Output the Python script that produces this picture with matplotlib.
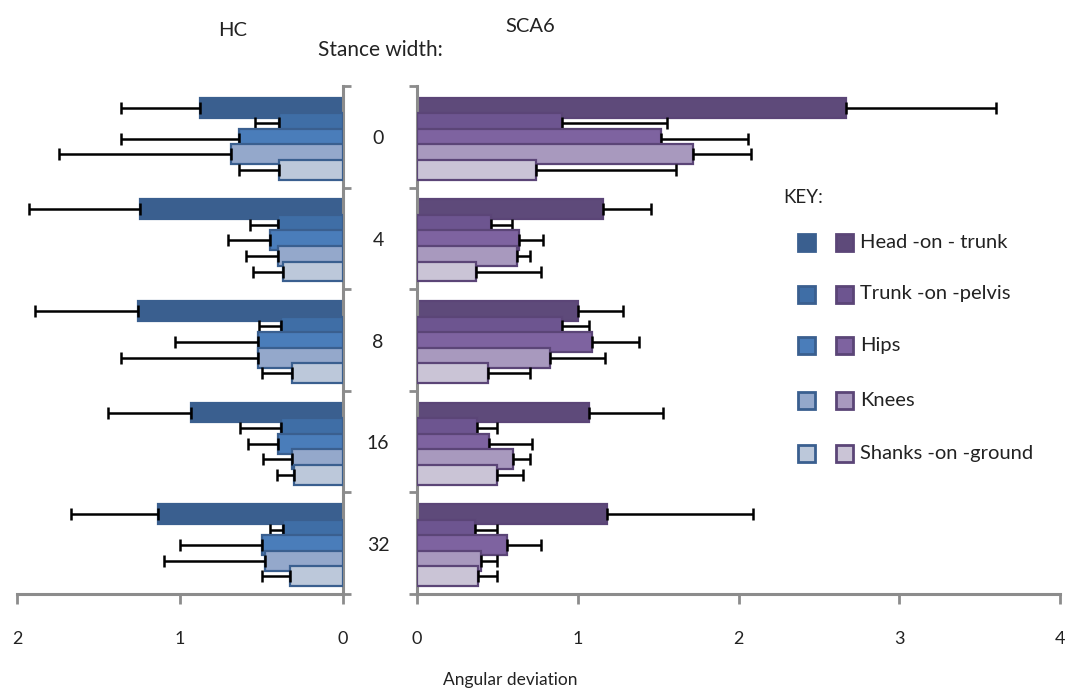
import numpy as np
import matplotlib
matplotlib.use('Agg')
import matplotlib.pyplot as plt
from matplotlib.patches import Rectangle
from matplotlib import transforms

plt.rcParams['font.family'] = ['Lato', 'DejaVu Sans']

stances = ['0', '4', '8', '16', '32']
segments = ['Head -on - trunk', 'Trunk -on -pelvis', 'Hips', 'Knees', 'Shanks -on -ground']

# HC (healthy controls) mean and SD per segment, one value per stance width
hc_head = [0.88, 1.245, 1.26, 0.93, 1.135]
hc_trunk = [0.39, 0.40, 0.38, 0.38, 0.37]
hc_hips = [0.64, 0.45, 0.52, 0.40, 0.50]
hc_knees = [0.69, 0.40, 0.52, 0.31, 0.48]
hc_shanks = [0.39, 0.37, 0.31, 0.30, 0.325]
hc_head_sd = [0.48, 0.68, 0.63, 0.51, 0.535]
hc_trunk_sd = [0.15, 0.17, 0.135, 0.25, 0.08]
hc_hips_sd = [0.72, 0.255, 0.51, 0.18, 0.50]
hc_knees_sd = [1.05, 0.195, 0.84, 0.18, 0.62]
hc_shanks_sd = [0.25, 0.18, 0.19, 0.105, 0.175]

# SCA6
sca_head = [2.67, 1.157, 1.00, 1.07, 1.18]
sca_trunk = [0.90, 0.46, 0.90, 0.375, 0.36]
sca_hips = [1.52, 0.635, 1.09, 0.45, 0.56]
sca_knees = [1.72, 0.62, 0.83, 0.60, 0.40]
sca_shanks = [0.74, 0.37, 0.44, 0.50, 0.38]
sca_head_sd = [0.93, 0.30, 0.28, 0.46, 0.91]
sca_trunk_sd = [0.655, 0.13, 0.17, 0.125, 0.14]
sca_hips_sd = [0.54, 0.15, 0.29, 0.265, 0.21]
sca_knees_sd = [0.36, 0.08, 0.34, 0.10, 0.10]
sca_shanks_sd = [0.87, 0.40, 0.26, 0.16, 0.12]

hc_vals = [hc_head, hc_trunk, hc_hips, hc_knees, hc_shanks]
hc_sds = [hc_head_sd, hc_trunk_sd, hc_hips_sd, hc_knees_sd, hc_shanks_sd]
sca_vals = [sca_head, sca_trunk, sca_hips, sca_knees, sca_shanks]
sca_sds = [sca_head_sd, sca_trunk_sd, sca_hips_sd, sca_knees_sd, sca_shanks_sd]

blue_fill = ['#3a5f8f', '#3f6ea6', '#4a7dba', '#94a8cb', '#bcc8da']
blue_edge = '#3a5f8f'
purple_fill = ['#5e4a7a', '#6d5590', '#7e63a0', '#a899be', '#cac4d6']
purple_edge = '#5b4577'
spine_col = '#8c8c8c'
txt = '#222222'

W, H = 1067, 691
fig = plt.figure(figsize=(W / 100, H / 100), dpi=100)
bot = 1 - 594 / H
hgt = (594 - 86) / H
axL = fig.add_axes([17 / W, bot, (343 - 17) / W, hgt])
axR = fig.add_axes([417 / W, bot, (1060 - 417) / W, hgt])

y = np.arange(len(stances))
step = 0.153
bh = 0.196


def draw(ax, vals, sds, fills, edge):
    for i in range(len(segments)):
        pos = y + (i - 2) * step + 0.02
        ax.barh(pos, vals[i], height=bh, color=fills[i], edgecolor=edge,
                linewidth=1.6, zorder=2 + i)
        ax.errorbar(vals[i], pos, xerr=[np.zeros(len(y)), sds[i]], fmt='none',
                    ecolor='black', elinewidth=1.8, capsize=4, capthick=1.8,
                    zorder=2 + i)


draw(axL, hc_vals, hc_sds, blue_fill, blue_edge)
draw(axR, sca_vals, sca_sds, purple_fill, purple_edge)

axL.set_xlim(2, 0)
axR.set_xlim(0, 4)
for ax in (axL, axR):
    ax.set_ylim(4.5, -0.5)
    ax.set_yticks(np.arange(-0.5, 5, 1))
    ax.set_yticklabels([])
    ax.spines['top'].set_visible(False)
    ax.tick_params(axis='x', direction='out', length=7, width=2, color=spine_col,
                   pad=20, labelsize=13, labelcolor=txt)
    ax.tick_params(axis='y', direction='out', length=6, width=2, color=spine_col)
    for s in ax.spines.values():
        s.set_color(spine_col)
        s.set_linewidth(2.2)

axL.set_xticks([0, 1, 2])
axR.set_xticks([0, 1, 2, 3, 4])
axL.spines['left'].set_visible(False)
axL.yaxis.tick_right()
axR.spines['right'].set_visible(False)

# stance width labels between the panels
tr = transforms.blended_transform_factory(fig.transFigure, axR.transData)
for k, s in enumerate(stances):
    fig.text(378 / W, y[k] + 0.02, s, transform=tr, ha='center', va='center',
             fontsize=14, color=txt)

fig.text(233 / W, 1 - 30 / H, 'HC', ha='center', va='center', fontsize=14.5, color=txt)
fig.text(530 / W, 1 - 27 / H, 'SCA6', ha='center', va='center', fontsize=14.5, color=txt)
fig.text(380 / W, 1 - 50 / H, 'Stance width:', ha='center', va='center', fontsize=15,
         color=txt)
fig.text(510 / W, 1 - 680 / H, 'Angular deviation', ha='center', va='center',
         fontsize=12.5, color=txt)

# key
fig.text(783 / W, 1 - 197 / H, 'KEY:', ha='left', va='center', fontsize=13.5, color=txt)
rows = [242, 294, 346, 400, 453]
sq = 17
for i, name in enumerate(segments):
    yc = rows[i]
    fig.add_artist(Rectangle((798 / W, 1 - (yc + sq / 2) / H), sq / W, sq / H,
                             transform=fig.transFigure, facecolor=blue_fill[i],
                             edgecolor=blue_edge, linewidth=2))
    fig.add_artist(Rectangle((836 / W, 1 - (yc + sq / 2) / H), sq / W, sq / H,
                             transform=fig.transFigure, facecolor=purple_fill[i],
                             edgecolor=purple_edge, linewidth=2))
    fig.text(860 / W, 1 - yc / H, name, ha='left', va='center', fontsize=14.5,
             color=txt)

fig.savefig('out.png', dpi=100)
